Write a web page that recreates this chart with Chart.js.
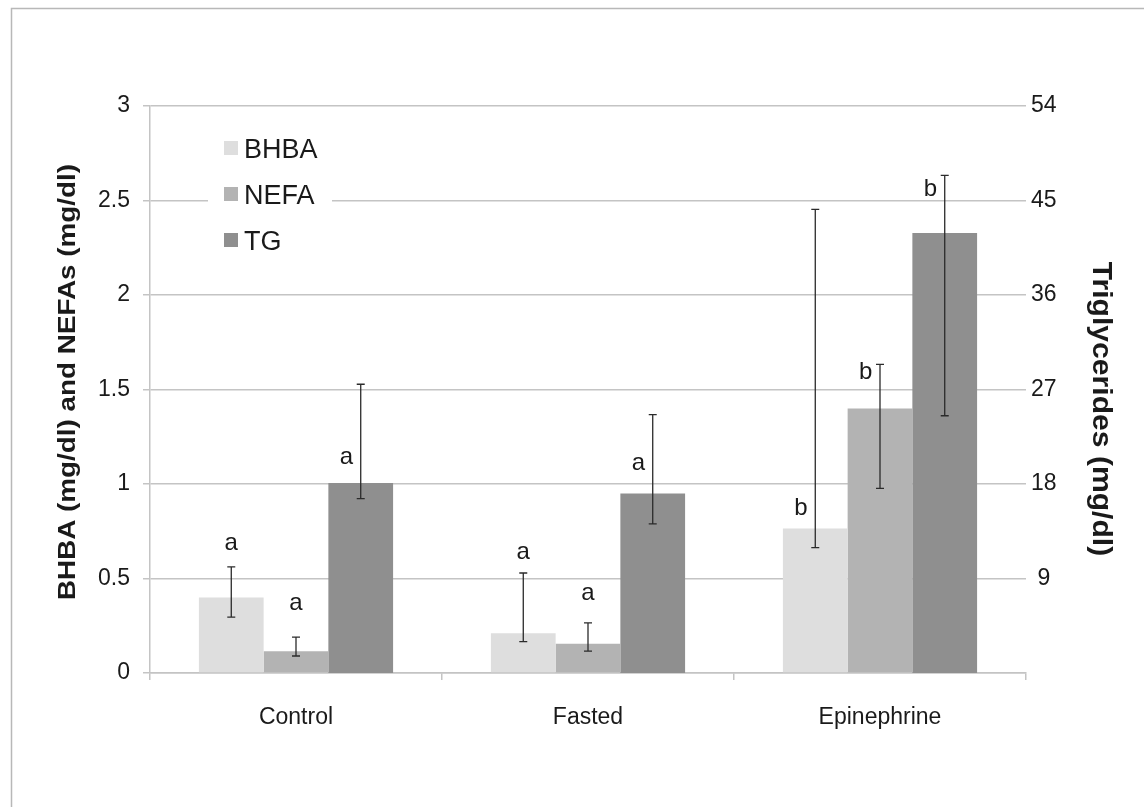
<!DOCTYPE html>
<html><head><meta charset="utf-8">
<script src="https://cdn.jsdelivr.net/npm/chart.js@4.4.1/dist/chart.umd.min.js"></script>
<style>html,body{margin:0;padding:0;background:#fff;}canvas{display:block}</style>
</head><body>
<canvas id="c" width="1144" height="807"></canvas>
<script>
// ---- data ----
const categories = ['Control', 'Fasted', 'Epinephrine'];
const seriesNames = ['BHBA', 'NEFA', 'TG'];
const bhba = [0.40, 0.21, 0.765];
const nefa = [0.115, 0.155, 1.40];
const tg = [18.1, 17.1, 41.9];
const bhbaLow = [0.296, 0.166, 0.663];
const bhbaHigh = [0.562, 0.529, 2.453];
const nefaLow = [0.09, 0.116, 0.977];
const nefaHigh = [0.19, 0.265, 1.633];
const tgLow = [16.6, 14.2, 24.5];
const tgHigh = [27.5, 24.6, 47.4];
const bhbaLetters = ['a', 'a', 'b'];
const nefaLetters = ['a', 'a', 'b'];
const tgLetters = ['a', 'a', 'b'];
const bhbaLetterAt = [0.688, 0.640, 0.873];
const nefaLetterAt = [0.370, 0.423, 1.593];
const tgLetterAt = [20.5, 20.0, 46.1];
const leftTicks = [0, 0.5, 1, 1.5, 2, 2.5, 3];
const rightTicks = [9, 18, 27, 36, 45, 54];
const leftTitle = 'BHBA (mg/dl) and NEFAs (mg/dl)';
const rightTitle = 'Triglycerides (mg/dl)';

// ---- style ----
const FAMILY = "'Liberation Sans', Arial, sans-serif";
const TEXT = '#1a1a1a';
const GRID = '#c4c4c4';
const colors = ['#dedede', '#b3b3b3', '#8f8f8f'];

const extras = {
  afterDatasetsDraw(chart) {
    const ctx = chart.ctx;
    ctx.save();
    chart.data.datasets.forEach((ds, di) => {
      const meta = chart.getDatasetMeta(di);
      const ys = chart.scales[ds.yAxisID];
      meta.data.forEach((bar, i) => {
        const x = bar.x;
        const yl = ys.getPixelForValue(ds.low[i]);
        const yh = ys.getPixelForValue(ds.high[i]);
        ctx.strokeStyle = '#2b2b2b';
        ctx.lineWidth = 1.3;
        ctx.beginPath();
        ctx.moveTo(x, yl); ctx.lineTo(x, yh);
        ctx.moveTo(x - 4, yl); ctx.lineTo(x + 4, yl);
        ctx.moveTo(x - 4, yh); ctx.lineTo(x + 4, yh);
        ctx.stroke();
        // significance letter: centred over the bar, nudged left when it sits beside the error bar
        const overlaps = ds.letterAt[i] < ds.high[i];
        const lx = x - (overlaps ? bar.width * 0.22 : 0);
        ctx.fillStyle = TEXT;
        ctx.font = '24px ' + FAMILY;
        ctx.textAlign = 'center';
        ctx.textBaseline = 'middle';
        ctx.fillText(ds.letters[i], lx, ys.getPixelForValue(ds.letterAt[i]));
      });
    });
    // legend
    const L = 224, T = 148, step = 46;
    ctx.fillStyle = '#ffffff';
    ctx.fillRect(208, 128, 124, 136);
    chart.data.datasets.forEach((ds, di) => {
      const cy = T + di * step;
      ctx.fillStyle = ds.backgroundColor;
      ctx.fillRect(L, cy - 7, 14, 14);
      ctx.fillStyle = TEXT;
      ctx.font = '27px ' + FAMILY;
      ctx.textAlign = 'left';
      ctx.textBaseline = 'middle';
      ctx.fillText(ds.label, 244, cy + 3);
    });
    ctx.restore();
  },
  afterDraw(chart) {
    const ctx = chart.ctx;
    ctx.save();
    // axis titles
    ctx.fillStyle = TEXT;
    ctx.textAlign = 'center';
    ctx.textBaseline = 'middle';
    ctx.font = 'bold 24px ' + FAMILY;
    ctx.translate(68, 382);
    ctx.rotate(-Math.PI / 2);
    ctx.scale(1.16, 1);
    ctx.fillText(leftTitle, 0, 0);
    ctx.setTransform(1, 0, 0, 1, 0, 0);
    ctx.font = 'bold 28px ' + FAMILY;
    ctx.translate(1101, 409);
    ctx.rotate(Math.PI / 2);
    ctx.scale(1.075, 1);
    ctx.fillText(rightTitle, 0, 0);
    ctx.setTransform(1, 0, 0, 1, 0, 0);
    // outer frame
    ctx.strokeStyle = '#b8b8b8';
    ctx.lineWidth = 1.5;
    ctx.beginPath();
    ctx.moveTo(11.5, 807); ctx.lineTo(11.5, 8.5); ctx.lineTo(1144, 8.5);
    ctx.stroke();
    ctx.restore();
  }
};

new Chart(document.getElementById('c'), {
  type: 'bar',
  data: {
    labels: categories,
    datasets: [
      { label: seriesNames[0], data: bhba, backgroundColor: colors[0], yAxisID: 'y',
        low: bhbaLow, high: bhbaHigh, letters: bhbaLetters, letterAt: bhbaLetterAt },
      { label: seriesNames[1], data: nefa, backgroundColor: colors[1], yAxisID: 'y',
        low: nefaLow, high: nefaHigh, letters: nefaLetters, letterAt: nefaLetterAt },
      { label: seriesNames[2], data: tg, backgroundColor: colors[2], yAxisID: 'y2',
        low: tgLow, high: tgHigh, letters: tgLetters, letterAt: tgLetterAt }
    ]
  },
  options: {
    responsive: false,
    animation: false,
    devicePixelRatio: 1,
    layout: { padding: { top: 106, left: 0, right: 0, bottom: 0 } },
    datasets: { bar: { categoryPercentage: 0.665, barPercentage: 1.0 } },
    plugins: { legend: { display: false }, tooltip: { enabled: false }, title: { display: false } },
    scales: {
      x: {
        grid: { offset: true, drawOnChartArea: false, drawTicks: true, tickLength: 7, color: GRID, lineWidth: 1.5 },
        border: { color: GRID, width: 1.5 },
        ticks: { font: { family: FAMILY, size: 23 }, color: TEXT, padding: 24, maxRotation: 0 },
        afterFit(s) { s.height = 134; }
      },
      y: {
        position: 'left', min: 0, max: 3,
        afterBuildTicks(s) { s.ticks = leftTicks.map(v => ({ value: v })); },
        ticks: { font: { family: FAMILY, size: 23 }, color: TEXT, padding: 13, callback: v => String(v) },
        grid: { color: GRID, lineWidth: 1.5, tickLength: 7 },
        border: { color: GRID, width: 1.5 },
        afterFit(s) { s.width = 150; }
      },
      y2: {
        position: 'right', min: 0, max: 54,
        afterBuildTicks(s) { s.ticks = [0].concat(rightTicks).map(v => ({ value: v })); },
        ticks: { font: { family: FAMILY, size: 23 }, color: TEXT, padding: 5, crossAlign: 'center',
                 callback: v => rightTicks.includes(v) ? String(v) : '' },
        grid: { display: false, drawTicks: false, tickLength: 0 },
        border: { display: false },
        afterFit(s) { s.width = 118; }
      }
    }
  },
  plugins: [extras]
});
</script>
</body></html>
